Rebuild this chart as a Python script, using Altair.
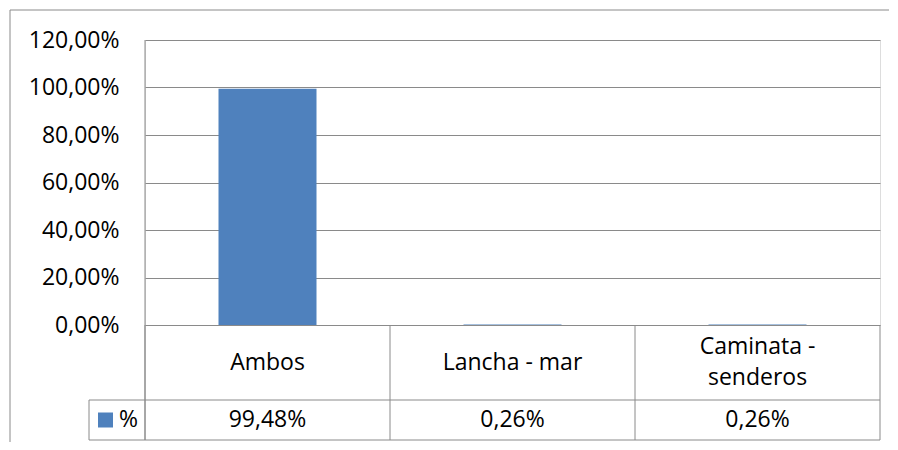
import altair as alt
import pandas as pd

categories = ["Ambos", "Lancha - mar", "Caminata - senderos"]
cat_labels = ["Ambos", "Lancha - mar", "Caminata -\nsenderos"]
values = [99.48, 0.26, 0.26]
y_ticks = [0, 20, 40, 60, 80, 100, 120]
series_name = "%"

df = pd.DataFrame({"cat": categories, "label": cat_labels, "val": values})
df["val_text"] = [f"{v:.2f}".replace(".", ",") + "%" for v in values]
dummy = pd.DataFrame({"d": [0]})

W, H = 735, 285
ROW1, ROW2 = 75, 40
LEG_W = 56
GRID = "#8a8a8a"
BORDER = "#8a8a8a"
BLUE = "#4F81BD"
FONT = "Open Sans"
FS = 23
LH = 31

xenc = alt.X("cat:N", sort=categories,
             scale=alt.Scale(paddingInner=0, paddingOuter=0), axis=None)

bars = alt.Chart(df).mark_bar(width={"band": 0.4}, color=BLUE).encode(
    x=xenc,
    y=alt.Y("val:Q", title=None,
            scale=alt.Scale(domain=[0, 120], nice=False),
            axis=alt.Axis(values=y_ticks, grid=True, gridColor=GRID, gridWidth=1,
                          domain=False, ticks=False, tickSize=0, labelPadding=26,
                          labelFont=FONT, labelFontSize=FS, labelColor="black",
                          labelExpr="replace(format(datum.value, '.2f'), '.', ',') + '%'")),
)

def vrule(x, y1, y2, color=GRID):
    return alt.Chart(dummy).mark_rule(color=color, strokeWidth=1).encode(
        x=alt.value(x), y=alt.value(y1), y2=alt.value(y2))

def hrule(y, x1, x2, color=GRID):
    return alt.Chart(dummy).mark_rule(color=color, strokeWidth=1).encode(
        y=alt.value(y), x=alt.value(x1), x2=alt.value(x2))

bottom = H + ROW1 + ROW2

cat_sep = alt.Chart(df).mark_rule(color=GRID, strokeWidth=1).encode(
    x=alt.X("cat:N", sort=categories, bandPosition=0,
            scale=alt.Scale(paddingInner=0, paddingOuter=0), axis=None),
    y=alt.value(H), y2=alt.value(bottom),
)

cat_text_1 = alt.Chart(df).transform_filter(
    "indexof(datum.label, '\\n') < 0"
).mark_text(font=FONT, fontSize=FS, baseline="middle", align="center", color="black").encode(
    x=xenc, y=alt.value(H + ROW1 / 2), text="label:N")

cat_text_2 = alt.Chart(df).transform_filter(
    "indexof(datum.label, '\\n') >= 0"
).mark_text(font=FONT, fontSize=FS, lineBreak="\n", lineHeight=LH, baseline="middle",
            align="center", color="black", dy=-LH / 2).encode(
    x=xenc, y=alt.value(H + ROW1 / 2), text="label:N")

val_text = alt.Chart(df).mark_text(font=FONT, fontSize=FS, baseline="middle",
                                   align="center", color="black").encode(
    x=xenc, y=alt.value(H + ROW1 + ROW2 / 2), text="val_text:N")

leg_sq = alt.Chart(dummy).mark_square(size=225, color=BLUE, opacity=1, filled=True).encode(
    x=alt.value(-39.5), y=alt.value(H + ROW1 + ROW2 / 2))
leg_txt = alt.Chart(pd.DataFrame({"s": [series_name]})).mark_text(
    font=FONT, fontSize=FS, baseline="middle", align="center", color="black").encode(
    x=alt.value(-16.5), y=alt.value(H + ROW1 + ROW2 / 2), text="s:N")

chart = alt.layer(
    bars,
    vrule(0, 0, bottom),
    vrule(W, H, bottom),
    cat_sep,
    hrule(H + ROW1, -LEG_W, W),
    hrule(bottom, -LEG_W, W),
    vrule(-LEG_W, H + ROW1, bottom),
    vrule(-135, -30, bottom + 117, BORDER),
    hrule(-30, -135, W + 9, BORDER),
    cat_text_1, cat_text_2, val_text, leg_sq, leg_txt,
).properties(
    width=W, height=H,
    autosize=alt.AutoSizeParams(type="none"),
    padding={"left": 137, "top": 32, "right": 10, "bottom": 117},
).configure_view(stroke=None).configure(background="white")

chart.save("out.html", embed_options={"renderer": "svg", "actions": False})
